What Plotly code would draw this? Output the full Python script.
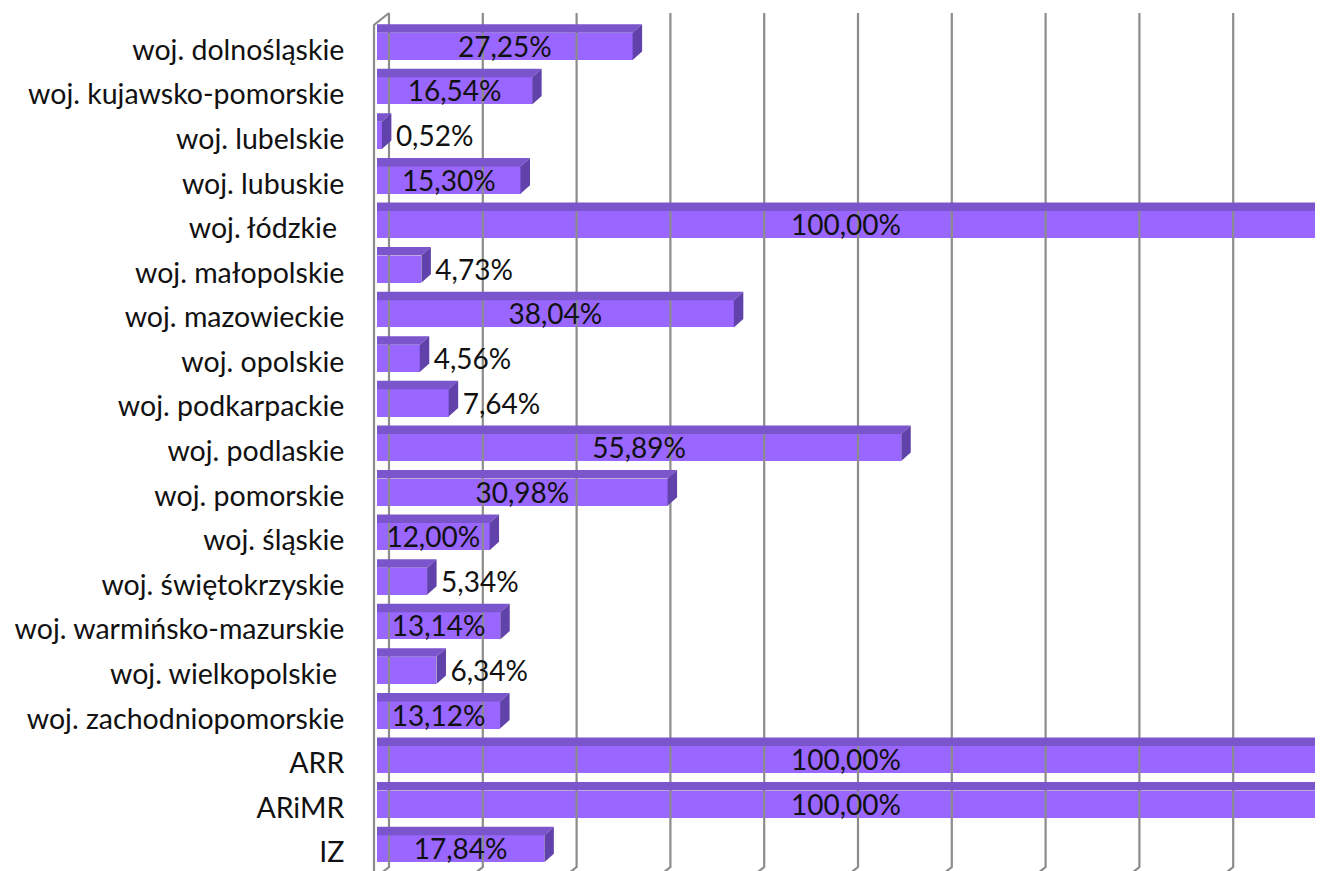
import plotly.graph_objects as go

categories = [
    "woj. dolnośląskie", "woj. kujawsko-pomorskie", "woj. lubelskie", "woj. lubuskie",
    "woj. łódzkie\u00a0", "woj. małopolskie", "woj. mazowieckie", "woj. opolskie",
    "woj. podkarpackie", "woj. podlaskie", "woj. pomorskie", "woj. śląskie",
    "woj. świętokrzyskie", "woj. warmińsko-mazurskie", "woj. wielkopolskie\u00a0",
    "woj. zachodniopomorskie", "ARR", "ARiMR", "IZ",
]
values = [27.25, 16.54, 0.52, 15.30, 100.00, 4.73, 38.04, 4.56, 7.64, 55.89,
          30.98, 12.00, 5.34, 13.14, 6.34, 13.12, 100.00, 100.00, 17.84]
grid_values = [0, 10, 20, 30, 40, 50, 60, 70, 80, 90, 100]

# ---- layout geometry (page pixels; the page body adds an 8px margin) ----
PAGE_W, PAGE_H = 1323, 871
OFF = 8
W, H = PAGE_W - OFF, PAGE_H - OFF
PLOT_L = 370 - OFF
ZERO_PX = 377 - OFF
PX_PER_X = 9.38          # pixels per 1 % on x axis
PITCH = 44.58            # pixels per category
FIRST_CENTER = 46.3 - OFF

x_min = -(ZERO_PX - PLOT_L) / PX_PER_X
x_max = (W - ZERO_PX) / PX_PER_X
y_top = -FIRST_CENTER / PITCH
y_bot = (H - FIRST_CENTER) / PITCH

def ux(px):
    return px / PX_PER_X

def uy(px):
    return px / PITCH

def page_y(py):
    return uy(py - OFF - FIRST_CENTER)

BAR_W = 0.61
BAR_DX, BAR_DY = ux(9.5), uy(8.5)
BACK_DX = ux(12)
WALL_FRONT = ux(-3)
WALL_DX, WALL_DY = ux(15), uy(12)
GRID_TOP = page_y(13)
GRID_BOTTOM = page_y(867)
WALL_TOP = page_y(25)
TEXT_DROP = 0.08

FRONT = "#9966FF"
TOP = "#7A55CC"
SIDE = "#6142AB"
GRID = "#8C8C8C"
FONT = "Lato"
AXIS_SIZE = 28.5
LABEL_SIZE = 28

idx = list(range(len(categories)))
fig = go.Figure()

# back-wall gridlines with floor return
gx, gy = [], []
for v in grid_values:
    gx += [v + BACK_DX, v + BACK_DX, v + BACK_DX - WALL_DX, None]
    gy += [GRID_TOP, GRID_BOTTOM, GRID_BOTTOM + WALL_DY, None]
# left wall front edge and top
gx += [WALL_FRONT, WALL_FRONT, BACK_DX, None]
gy += [y_bot + 1, WALL_TOP, GRID_TOP, None]
fig.add_trace(go.Scatter(x=gx, y=gy, mode="lines", line=dict(color=GRID, width=2.2),
                         hoverinfo="skip", showlegend=False))

# front faces
fig.add_trace(go.Bar(x=values, y=idx, orientation="h", width=BAR_W,
                     marker=dict(color=FRONT, line=dict(width=0)),
                     hoverinfo="skip", showlegend=False))

# top and side faces
tx, ty, sx, sy = [], [], [], []
for i, v in zip(idx, values):
    t = i - BAR_W / 2
    b = i + BAR_W / 2
    tx += [0, v, v + BAR_DX, 0, 0, None]
    ty += [t, t, t - BAR_DY, t - BAR_DY, t, None]
    sx += [v, v + BAR_DX, v + BAR_DX, v, v, None]
    sy += [t, t - BAR_DY, b - BAR_DY, b, t, None]
fig.add_trace(go.Scatter(x=tx, y=ty, mode="lines", fill="toself", fillcolor=TOP,
                         line=dict(width=0, color=TOP), hoverinfo="skip", showlegend=False))
fig.add_trace(go.Scatter(x=sx, y=sy, mode="lines", fill="toself", fillcolor=SIDE,
                         line=dict(width=0, color=SIDE), hoverinfo="skip", showlegend=False))

# data labels
labels = [f"{v:.2f}".replace(".", ",") + "%" for v in values]
inside = [v >= 10 for v in values]
lx = [v / 2 if ins else v + ux(14) for v, ins in zip(values, inside)]
lpos = ["middle center" if ins else "middle right" for ins in inside]
fig.add_trace(go.Scatter(x=lx, y=[i + TEXT_DROP for i in idx], mode="text", text=labels,
                         textposition=lpos,
                         textfont=dict(family=FONT, size=LABEL_SIZE, color="#111111"),
                         hoverinfo="skip", showlegend=False, cliponaxis=False))

fig.update_layout(
    width=W, height=H,
    margin=dict(l=PLOT_L, r=0, t=0, b=0, pad=0),
    paper_bgcolor="white", plot_bgcolor="white",
    font=dict(family=FONT, size=AXIS_SIZE, color="#111111"),
    bargap=0,
    xaxis=dict(range=[x_min, x_max], showgrid=False, zeroline=False, showticklabels=False,
               showline=False, fixedrange=True, automargin=False),
    yaxis=dict(range=[y_bot, y_top], tickmode="array",
               tickvals=[i + TEXT_DROP for i in idx], ticktext=categories,
               showgrid=False, zeroline=False, showline=False, ticks="outside", ticklen=19,
               tickcolor="rgba(0,0,0,0)",
               tickfont=dict(family=FONT, size=AXIS_SIZE, color="#111111"),
               fixedrange=True, automargin=False),
)
fig.write_html("out.html")
